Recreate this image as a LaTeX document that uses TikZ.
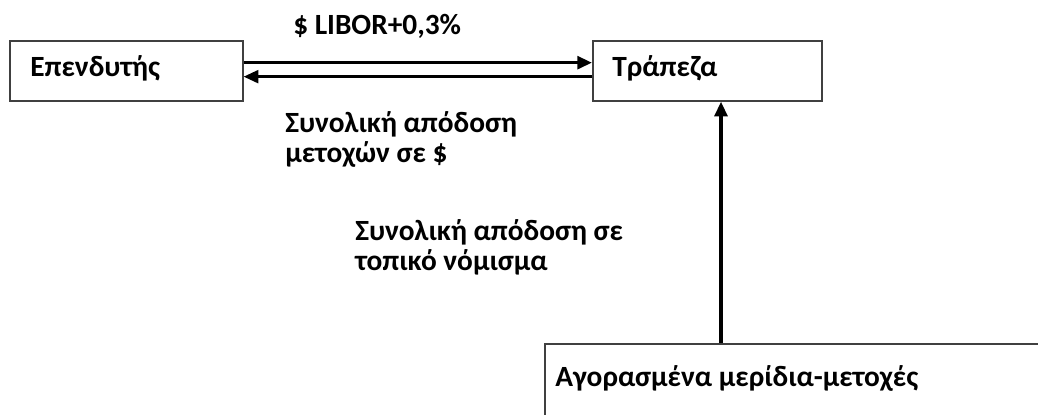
\documentclass[tikz,border=0pt]{standalone}
\usepackage{fontspec}
\setmainfont{Carlito}
\usetikzlibrary{arrows.meta}
\begin{document}
\begin{tikzpicture}[x=0.75pt,y=-0.75pt,
  box/.style={draw=black!75,line width=1.2pt,fill=white,inner sep=0pt,anchor=north west},
  lbl/.style={font=\fontsize{22}{22}\selectfont\bfseries,inner sep=0pt,anchor=base west,align=left},
  arr/.style={line width=2.6pt,-{Triangle[length=11pt,width=9.5pt]}}]
\useasboundingbox (0,0) rectangle (1038,414);
\clip (0,0) rectangle (1038,414);
\node[box,minimum width=174.75pt,minimum height=45pt] (inv) at (9,40) {};
\node[box,minimum width=171.75pt,minimum height=45pt] (bank) at (592,40) {};
\node[box,minimum width=400pt,minimum height=100pt] (shares) at (544,343) {};
\node[lbl] (tinv) at (30,76) {Επενδυτής};
\node[lbl] (tbank) at (612,76) {Τράπεζα};
\node[lbl] (tshares) at (555,386) {Αγορασμένα μερίδια-μετοχές};
\node[lbl] (libor) at (293,34) {\$ LIBOR+0,3\%};
\node[lbl] (ret1) at (285,162) {Συνολική απόδοση\\μετοχών σε \$};
\node[lbl] (ret2) at (355,270) {Συνολική απόδοση σε\\τοπικό νόμισμα};
\draw[arr] ([yshift=-17pt]inv.north east) -- ([yshift=-17pt]bank.north west);
\draw[arr,line width=2.2pt] ([yshift=-27.5pt]bank.north west) -- ([yshift=-27.5pt]inv.north east);
\draw[arr] (shares.north west -| 721,0) -- (bank.south west -| 721,0);
\end{tikzpicture}
\end{document}
